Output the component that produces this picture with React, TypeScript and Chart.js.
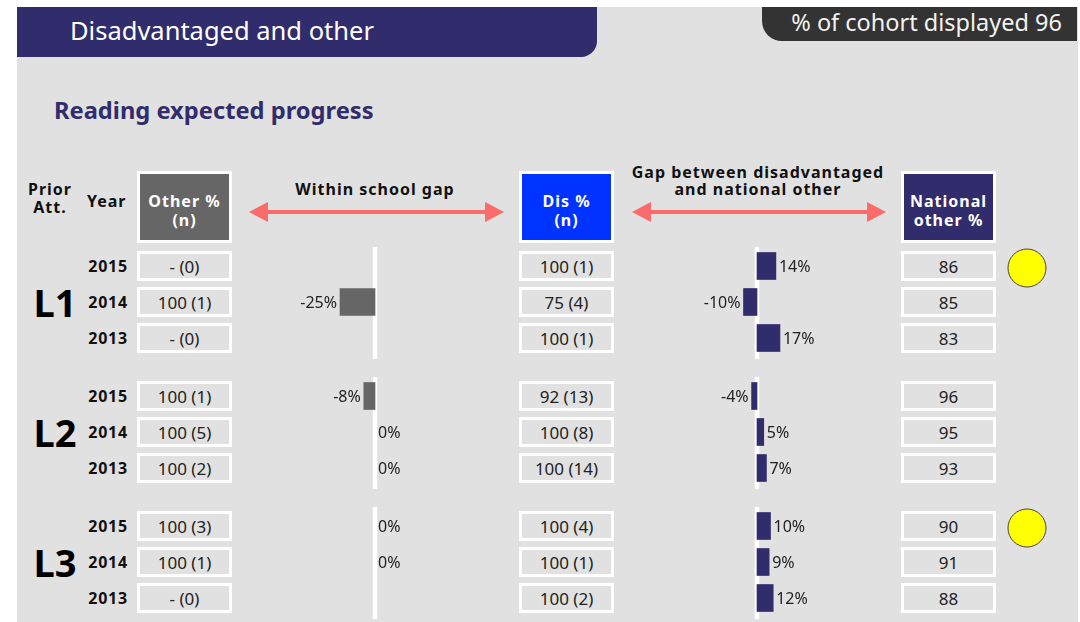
import React, { useEffect, useRef } from "react";
import { Chart, registerables } from "chart.js";

Chart.register(...registerables);

// ---------- data ----------
const groups = ["L1", "L2", "L3"];
const years = ["2015", "2014", "2013"];
const otherPct: (number | null)[][] = [
  [null, 100, null],
  [100, 100, 100],
  [100, 100, null],
];
const otherN = [
  [0, 1, 0],
  [1, 5, 2],
  [3, 1, 0],
];
const disPct = [
  [100, 75, 100],
  [92, 100, 100],
  [100, 100, 100],
];
const disN = [
  [1, 4, 1],
  [13, 8, 14],
  [4, 1, 2],
];
const nationalOther = [
  [86, 85, 83],
  [96, 95, 93],
  [90, 91, 88],
];
const withinGap: (number | null)[][] = [
  [null, -25, null],
  [-8, 0, 0],
  [0, 0, null],
];
const disNatGap = [
  [14, -10, 17],
  [-4, 5, 7],
  [10, 9, 12],
];
const flagged = [
  [true, false, false],
  [false, false, false],
  [true, false, false],
];
const cohortDisplayed = 96;

// ---------- styling / layout ----------
const NAVY = "#312c6b";
const GREY = "#666666";
const BLUE = "#0033ff";
const PANEL = "#e1e1e1";
const FONT = '"Noto Sans", "Open Sans", sans-serif';
const ROW0 = 266;
const ROW_STEP = 36;
const GROUP_STEP = 130;
const PAD_T = 2;
const PAD_B = 4;

const rowY = (g: number, i: number) => ROW0 + g * GROUP_STEP + i * ROW_STEP;
const groupTop = (g: number) => rowY(g, 0) - ROW_STEP / 2;

const zeroLine = {
  id: "zeroLine",
  beforeDatasetsDraw(chart: any) {
    const { ctx, chartArea, scales } = chart;
    const x = scales.x.getPixelForValue(0);
    ctx.save();
    ctx.strokeStyle = "#ffffff";
    ctx.lineWidth = 4.5;
    ctx.beginPath();
    ctx.moveTo(x, chartArea.top - 1);
    ctx.lineTo(x, chartArea.bottom + 3);
    ctx.stroke();
    ctx.restore();
  },
};

const barLabels = {
  id: "barLabels",
  afterDatasetsDraw(chart: any) {
    const { ctx } = chart;
    const meta = chart.getDatasetMeta(0);
    const data = chart.data.datasets[0].data;
    meta.data.forEach((el: any, i: number) => {
      const v = data[i];
      if (v === null || v === undefined) return;
      const neg = v < 0;
      ctx.save();
      ctx.font = '16px "Noto Sans"';
      ctx.fillStyle = "#222222";
      ctx.textBaseline = "middle";
      ctx.textAlign = neg ? "right" : "left";
      ctx.fillText(`${v}%`, neg ? el.x - 3 : el.x + 3, el.y + 1);
      ctx.restore();
    });
  },
};

function GapChart(props: {
  values: (number | null)[];
  color: string;
  left: number;
  top: number;
  width: number;
}) {
  const ref = useRef<HTMLCanvasElement>(null);
  const height = ROW_STEP * 3 + PAD_T + PAD_B;
  useEffect(() => {
    const chart = new Chart(ref.current as HTMLCanvasElement, {
      type: "bar",
      data: {
        labels: years,
        datasets: [
          {
            data: props.values as any,
            backgroundColor: (c: any) => (c.raw === 0 ? "rgba(0,0,0,0)" : props.color),
            borderWidth: 0,
            barThickness: 27,
          },
        ],
      },
      options: {
        indexAxis: "y",
        animation: false,
        responsive: false,
        maintainAspectRatio: false,
        events: [],
        layout: { autoPadding: false, padding: { top: PAD_T, bottom: PAD_B, left: 0, right: 0 } },
        plugins: { legend: { display: false }, tooltip: { enabled: false } },
        scales: {
          x: { display: false, min: -100, max: 100 },
          y: { display: false },
        },
      },
      plugins: [zeroLine, barLabels],
    } as any);
    return () => chart.destroy();
  }, []);
  return (
    <canvas
      ref={ref}
      width={props.width}
      height={height}
      style={{ position: "absolute", left: props.left, top: props.top - PAD_T, width: props.width, height }}
    />
  );
}

function FlagChart(props: { flags: boolean[]; left: number; top: number }) {
  const ref = useRef<HTMLCanvasElement>(null);
  const pad = 4;
  const width = 50;
  const height = ROW_STEP * 3 + pad * 2;
  useEffect(() => {
    const chart = new Chart(ref.current as HTMLCanvasElement, {
      type: "line",
      data: {
        labels: years,
        datasets: [
          {
            data: props.flags.map((f) => (f ? 0 : null)),
            showLine: false,
            pointRadius: 19,
            pointBackgroundColor: "#ffff00",
            pointBorderColor: "#444444",
            pointBorderWidth: 1,
            clip: false,
          },
        ],
      },
      options: {
        indexAxis: "y",
        animation: false,
        responsive: false,
        maintainAspectRatio: false,
        events: [],
        layout: { autoPadding: false, padding: pad },
        plugins: { legend: { display: false }, tooltip: { enabled: false } },
        scales: {
          x: { display: false, min: -1, max: 1 },
          y: { display: false, offset: true },
        },
      },
    } as any);
    return () => chart.destroy();
  }, []);
  return (
    <canvas
      ref={ref}
      width={width}
      height={height}
      style={{ position: "absolute", left: props.left, top: props.top - pad, width, height }}
    />
  );
}

function Txt(p: {
  x: number;
  y: number;
  text: string;
  size: number;
  bold?: boolean;
  align?: "left" | "center" | "right";
  color?: string;
  ls?: number;
}) {
  const lh = Math.round(p.size * 1.3);
  const shift = p.align === "center" ? "-50%" : p.align === "right" ? "-100%" : "0";
  return (
    <div
      style={{
        position: "absolute",
        left: p.x,
        top: p.y - lh / 2,
        lineHeight: `${lh}px`,
        fontSize: p.size,
        fontWeight: p.bold ? 700 : 400,
        color: p.color || "#111",
        letterSpacing: p.ls ? `${p.ls}px` : undefined,
        whiteSpace: "nowrap",
        transform: `translateX(${shift})`,
      }}
    >
      {p.text}
    </div>
  );
}

function HeadBox(p: { x: number; bg: string; lines: string[] }) {
  return (
    <div
      style={{
        position: "absolute",
        left: p.x,
        top: 171,
        width: 95,
        height: 72,
        boxSizing: "border-box",
        border: "3px solid #fff",
        background: p.bg,
        color: "#fff",
        fontWeight: 700,
        fontSize: 16,
        letterSpacing: "1px",
        lineHeight: "19px",
        textAlign: "center",
        paddingTop: 8,
        display: "flex",
        flexDirection: "column",
        justifyContent: "center",
        alignItems: "center",
      }}
    >
      {p.lines.map((l, i) => (
        <div key={i}>{l}</div>
      ))}
    </div>
  );
}

function Cell(p: { x: number; y: number; text: string }) {
  return (
    <div
      style={{
        position: "absolute",
        left: p.x,
        top: p.y - 15,
        width: 95,
        height: 30,
        boxSizing: "border-box",
        border: "3px solid #fff",
        display: "flex",
        alignItems: "center",
        justifyContent: "center",
        fontSize: 17,
        color: "#222",
        whiteSpace: "nowrap",
      }}
    >
      {p.text}
    </div>
  );
}

function Arrow(p: { x1: number; x2: number; y: number }) {
  const h = 19;
  const w = 10;
  return (
    <g fill="#fb6b6b" stroke="none">
      <rect x={p.x1 + h - 2} y={p.y - 2} width={p.x2 - p.x1 - 2 * h + 4} height={4} />
      <polygon points={`${p.x1},${p.y} ${p.x1 + h},${p.y - w} ${p.x1 + h},${p.y + w}`} />
      <polygon points={`${p.x2},${p.y} ${p.x2 - h},${p.y - w} ${p.x2 - h},${p.y + w}`} />
    </g>
  );
}

const fmtPair = (v: number | null, n: number) => `${v === null ? "-" : v} (${n})`;

export default function App() {
  return (
    <div
      style={{
        position: "absolute",
        left: 0,
        top: 0,
        width: 1080,
        height: 622,
        overflow: "hidden",
        background: "#fff",
        fontFamily: FONT,
      }}
    >
      {/* panel */}
      <div style={{ position: "absolute", left: 17, top: 7, width: 1061, height: 615, background: PANEL }} />
      {/* title bar */}
      <div
        style={{
          position: "absolute",
          left: 17,
          top: 7,
          width: 580,
          height: 50,
          background: NAVY,
          borderBottomRightRadius: 16,
          color: "#fff",
          fontSize: 25.5,
          lineHeight: "46px",
          paddingLeft: 53,
          boxSizing: "border-box",
          whiteSpace: "nowrap",
        }}
      >
        Disadvantaged and other
      </div>
      {/* cohort box */}
      <div
        style={{
          position: "absolute",
          left: 762,
          top: 7,
          width: 315,
          height: 34,
          background: "#333333",
          borderBottomLeftRadius: 20,
          color: "#f2f2f2",
          fontSize: 23.5,
          lineHeight: "31px",
          textAlign: "right",
          paddingRight: 15,
          boxSizing: "border-box",
          whiteSpace: "nowrap",
        }}
      >
        {`% of cohort displayed ${cohortDisplayed}`}
      </div>

      <Txt x={54} y={110} text="Reading expected progress" size={23.7} bold color={NAVY} />

      {/* column headers */}
      <Txt x={50} y={189} text="Prior" size={16} bold align="center" ls={1} />
      <Txt x={50} y={207} text="Att." size={16} bold align="center" ls={1} />
      <Txt x={87} y={201} text="Year" size={16} bold ls={1} />
      <HeadBox x={137} bg={GREY} lines={["Other %", "(n)"]} />
      <HeadBox x={519} bg={BLUE} lines={["Dis %", "(n)"]} />
      <HeadBox x={901} bg={NAVY} lines={["National", "other %"]} />
      <Txt x={375} y={189} text="Within school gap" size={16} bold align="center" ls={1} />
      <Txt x={758} y={172} text="Gap between disadvantaged" size={16} bold align="center" ls={1} />
      <Txt x={758} y={189} text="and national other" size={16} bold align="center" ls={1} />

      <svg
        width={1080}
        height={622}
        style={{ position: "absolute", left: 0, top: 0, pointerEvents: "none" }}
      >
        <Arrow x1={249} x2={504} y={212} />
        <Arrow x1={632} x2={886} y={212} />
      </svg>

      {groups.map((gName, g) => (
        <React.Fragment key={gName}>
          <Txt x={55} y={rowY(g, 1)} text={gName} size={38} bold align="center" color="#000" />
          {years.map((yr, i) => (
            <React.Fragment key={yr}>
              <Txt x={128} y={rowY(g, i)} text={yr} size={16} bold align="right" ls={0.8} />
              <Cell x={137} y={rowY(g, i)} text={fmtPair(otherPct[g][i], otherN[g][i])} />
              <Cell x={519} y={rowY(g, i)} text={fmtPair(disPct[g][i], disN[g][i])} />
              <Cell x={901} y={rowY(g, i)} text={`${nationalOther[g][i]}`} />
            </React.Fragment>
          ))}
          <GapChart values={withinGap[g]} color={GREY} left={235} top={groupTop(g)} width={280} />
          <GapChart values={disNatGap[g]} color={NAVY} left={622} top={groupTop(g)} width={270} />
          <FlagChart flags={flagged[g]} left={1002} top={groupTop(g) + 2} />
        </React.Fragment>
      ))}
    </div>
  );
}
